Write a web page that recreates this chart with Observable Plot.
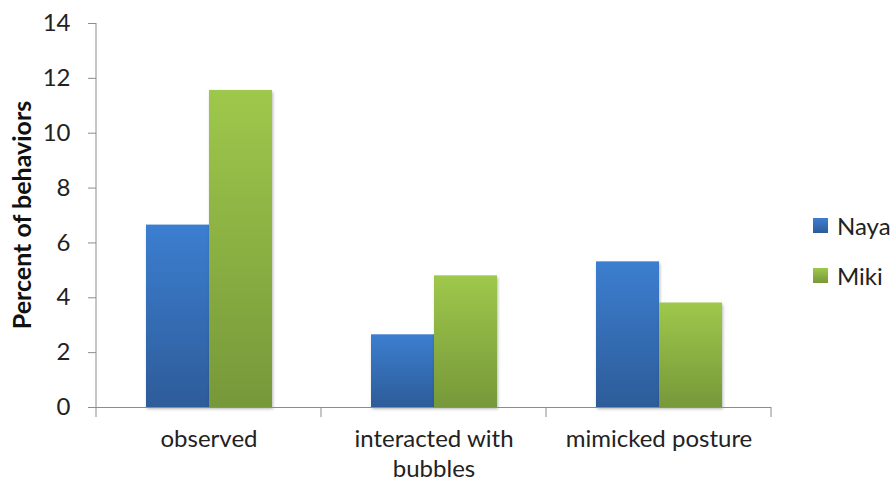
<!DOCTYPE html>
<html>
<head>
<meta charset="utf-8">
<script src="https://cdn.jsdelivr.net/npm/d3@7"></script>
<script src="https://cdn.jsdelivr.net/npm/@observablehq/plot@0.6"></script>
<style>
  body { margin: 0; background: #fff; }
  #chart { position: relative; width: 893px; height: 485px; font-family: Lato, sans-serif; color: #222; }
  .legend { position: absolute; left: 813px; top: 200px; font-size: 24px; }
  .legend .item { display: flex; align-items: center; height: 50px; }
  .legend .swatch { width: 15px; height: 15px; margin-right: 9px; }
</style>
</head>
<body>
<div id="chart"></div>
<script>
// Behaviour categories (newline = wrapped label)
const categories = ["observed", "interacted with\nbubbles", "mimicked posture"];
const series = ["Naya", "Miki"];
// Percent of behaviors per category
const nayaValues = [6.65, 2.65, 5.31];
const mikiValues = [11.56, 4.80, 3.81];
const yTicks = [0, 2, 4, 6, 8, 10, 12, 14];

// Vertical gradients for each series (top colour, bottom colour)
const gradients = {
  Naya: {id: "grad-naya", top: "#3c7ed0", bottom: "#2d5c99"},
  Miki: {id: "grad-miki", top: "#9ec84b", bottom: "#77983a"}
};

const rows = categories.flatMap((c, i) => [
  {category: c, series: "Naya", value: nayaValues[i]},
  {category: c, series: "Miki", value: mikiValues[i]}
]);

const axisGrey = "#8c8c8c";

const chart = Plot.plot({
  width: 893,
  height: 485,
  marginLeft: 96,
  marginRight: 122,
  marginTop: 23,
  marginBottom: 78,
  style: {fontFamily: "Lato, sans-serif", fontSize: "24px", color: "#222", background: "transparent", overflow: "visible"},
  fx: {domain: categories, padding: 0, label: null},
  x: {domain: series, paddingInner: 0, paddingOuter: 0.758, axis: null},
  y: {domain: [0, 14], label: null},
  marks: [
    ...series.map(s => Plot.barY(rows.filter(d => d.series === s), {
      fx: "category",
      x: "series",
      y: "value",
      fill: `url(#${gradients[s].id})`
    })),
    Plot.ruleY([0], {stroke: axisGrey}),
    Plot.axisY({ticks: yTicks, tickSize: 8, tickPadding: 18, stroke: axisGrey, fill: "#222", label: null}),
    Plot.axisFx({anchor: "bottom", tickSize: 0, tickPadding: 19, lineHeight: 1.22, fill: "#222", label: null})
  ]
});

const svg = d3.select(chart);

// gradient definitions referenced by the bars
const defs = svg.insert("defs", ":first-child");
for (const s of series) {
  const g = defs.append("linearGradient")
    .attr("id", gradients[s].id)
    .attr("x1", 0).attr("y1", 0).attr("x2", 0).attr("y2", 1);
  g.append("stop").attr("offset", "0%").attr("stop-color", gradients[s].top);
  g.append("stop").attr("offset", "100%").attr("stop-color", gradients[s].bottom);
}

// soft shadow under the bars
svg.selectAll("g[aria-label='bar']").style("filter", "drop-shadow(1px 2px 1.5px rgba(0,0,0,0.28))");

// vertical axis line and category boundary ticks
const fx = chart.scale("fx");
const y = chart.scale("y");
const y0 = y.apply(0);
const yTop = y.apply(14);
const left = fx.apply(categories[0]);
svg.append("line")
  .attr("x1", left).attr("x2", left).attr("y1", yTop).attr("y2", y0)
  .attr("stroke", axisGrey);
const bounds = categories.map(c => fx.apply(c)).concat(fx.apply(categories[categories.length - 1]) + fx.bandwidth);
svg.append("g").selectAll("line").data(bounds).join("line")
  .attr("x1", d => d).attr("x2", d => d)
  .attr("y1", y0).attr("y2", y0 + 10)
  .attr("stroke", axisGrey);

// y axis title
svg.append("text")
  .attr("transform", `translate(31,${(y0 + yTop) / 2}) rotate(-90)`)
  .attr("text-anchor", "middle")
  .attr("font-weight", "bold")
  .attr("font-size", 25)
  .attr("fill", "#111")
  .text("Percent of behaviors");

const container = document.getElementById("chart");
container.appendChild(chart);

// legend
const legend = d3.select(container).append("div").attr("class", "legend");
for (const s of series) {
  const item = legend.append("div").attr("class", "item");
  item.append("div").attr("class", "swatch")
    .style("background", `linear-gradient(${gradients[s].top}, ${gradients[s].bottom})`);
  item.append("span").text(s);
}
</script>
</body>
</html>
